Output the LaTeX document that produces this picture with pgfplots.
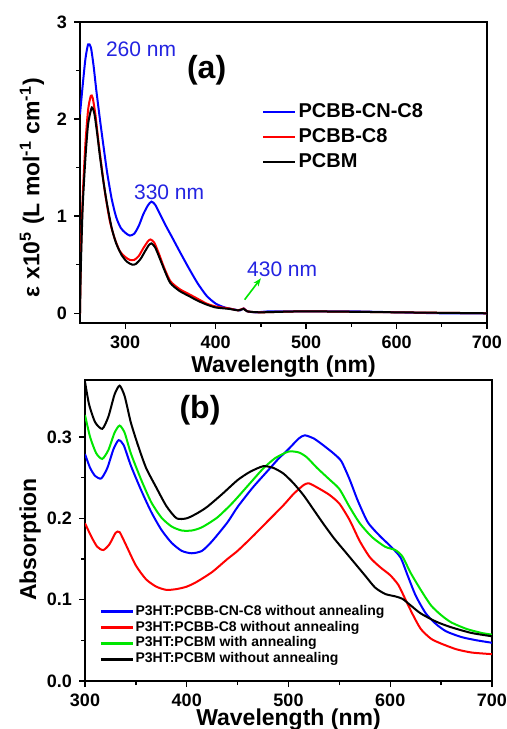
\documentclass[border=0pt]{standalone}
\usepackage{fontspec}
\setmainfont{Liberation Sans}
\usepackage{pgfplots}
\pgfplotsset{compat=1.18}
\usetikzlibrary{arrows.meta}

\definecolor{anno}{RGB}{35,35,225}
\definecolor{cblue}{RGB}{0,0,255}
\definecolor{cred}{RGB}{255,0,0}
\definecolor{cgreen}{RGB}{0,230,0}

\pgfplotsset{
  spec/.style={
    scale only axis,
    width=203.5pt, height=150.5pt,
    axis line style={line width=0.8pt},
    tick style={line width=0.7pt, black},
    tick align=outside,
    xtick pos=bottom, ytick pos=left,
    major tick length=3pt, minor tick length=2pt,
    minor tick num=1,
    /pgf/number format/assume math mode=true,
    tick label style={font=\bfseries\fontsize{9}{10}\selectfont},
    label style={font=\bfseries\fontsize{11.5}{13}\selectfont},
    xlabel style={at={(axis description cs:0.5,0)}, anchor=center, yshift=-22pt},
    legend cell align=left,
    clip mode=individual,
    every axis plot/.append style={line width=1pt, smooth, tension=0.4},
  },
}

\begin{document}
\begin{tikzpicture}
\path[use as bounding box] (0,0) rectangle (253.5pt,364.5pt);

% ---- panel (a)
\begin{axis}[spec,
  at={(40pt,203pt)}, anchor=south west,
  xmin=250, xmax=700, ymin=-0.1, ymax=3,
  xtick={300,400,500,600,700},
  ytick={0,1,2,3},
  xlabel={Wavelength (nm)},
  ylabel={ε x10\textsuperscript{5} (L mol\textsuperscript{-1} cm\textsuperscript{-1})},
  ylabel style={at={(axis description cs:-0.118,0.45)}, anchor=center},
  legend style={at={(0.432,0.752)}, anchor=north west, draw=none, fill=none,
    font=\bfseries\fontsize{10}{12}\selectfont, row sep=1.6pt,
    nodes={inner sep=1.2pt}},
  legend image code/.code={\draw[#1, sharp plot] (0pt,0pt) -- (16pt,0pt);},
]
\addplot[cblue] coordinates {
(250,2.05) (253,2.35) (256,2.62) (259,2.77) (262,2.74) (265,2.55) (268,2.30)
(272,2.00) (276,1.72) (280,1.45) (285,1.18) (290,0.99) (295,0.88) (300,0.83)
(305,0.80) (310,0.82) (315,0.90) (320,1.02) (325,1.11) (329,1.15) (333,1.12)
(338,1.03) (345,0.90) (352,0.78) (360,0.64) (370,0.47) (380,0.31) (390,0.18)
(400,0.10) (410,0.06) (420,0.04) (427,0.03) (431,0.05) (435,0.02) (445,0.01)
(460,0.02) (500,0.02) (550,0.02) (600,0.01) (650,0.0) (700,0.0)};
\addlegendentry{PCBB-CN-C8}
\addplot[cred] coordinates {
(250,0.0) (251,0.6) (253,1.2) (256,1.75) (259,2.1) (262,2.24) (264,2.22)
(267,2.05) (270,1.80) (274,1.50) (278,1.22) (283,0.95) (288,0.78) (294,0.64)
(300,0.58) (305,0.55) (310,0.55) (315,0.59) (320,0.67) (325,0.74) (328,0.76)
(332,0.73) (337,0.62) (343,0.47) (350,0.33) (360,0.25) (370,0.20) (380,0.15)
(390,0.10) (400,0.07) (415,0.05) (425,0.03) (431,0.05) (435,0.02) (450,0.01)
(500,0.02) (600,0.01) (700,0.0)};
\addlegendentry{PCBB-C8}
\addplot[black] coordinates {
(250,0.0) (251,0.5) (253,1.1) (256,1.6) (259,1.95) (263,2.12) (266,2.05)
(269,1.85) (272,1.62) (276,1.35) (280,1.12) (285,0.88) (290,0.72) (296,0.60)
(302,0.53) (308,0.50) (312,0.51) (317,0.56) (322,0.64) (326,0.70) (329,0.72)
(333,0.68) (338,0.57) (344,0.43) (350,0.31) (360,0.23) (370,0.18) (380,0.13)
(390,0.09) (400,0.06) (415,0.045) (425,0.03) (431,0.045) (435,0.02) (450,0.01)
(500,0.02) (600,0.01) (700,0.0)};
\addlegendentry{PCBM}

\node[anno, anchor=west, font=\fontsize{10.5}{12}\selectfont] at (axis cs:271,2.72) {260 nm};
\node[anno, anchor=west, font=\fontsize{10.5}{12}\selectfont] at (axis cs:302,1.25) {330 nm};
\node[anno, anchor=west, font=\fontsize{10.5}{12}\selectfont] at (axis cs:427,0.45) {430 nm};
\draw[cgreen, line width=0.8pt, -{Stealth[length=4pt]}] (axis cs:432,0.14) -- (axis cs:450,0.36);
\node[font=\bfseries\fontsize{16}{18}\selectfont] at (axis cs:390,2.5) {(a)};
\end{axis}

% ---- panel (b)
\begin{axis}[spec,
  at={(42.5pt,24pt)}, anchor=south west,
  xmin=300, xmax=700, ymin=0, ymax=0.37,
  xtick={300,400,500,600,700},
  ytick={0,0.1,0.2,0.3},
  yticklabel style={/pgf/number format/.cd, fixed, fixed zerofill, precision=1},
  xlabel={Wavelength (nm)},
  xlabel style={yshift=2.7pt},
  ylabel={Absorption},
  ylabel style={at={(axis description cs:-0.135,0.47)}, anchor=center},
  legend style={at={(0.02,0.272)}, anchor=north west, draw=none, fill=none,
    font=\bfseries\fontsize{7}{8}\selectfont, row sep=0pt,
    nodes={inner sep=0.7pt}},
  legend image code/.code={\draw[#1, sharp plot, line width=1.3pt] (0pt,0pt) -- (16pt,0pt);},
]
\addplot[cblue] coordinates {
(300,0.279) (305,0.262) (310,0.252) (316,0.249) (322,0.262) (328,0.285) (333,0.296)
(338,0.290) (345,0.265) (355,0.235) (365,0.208) (375,0.186) (385,0.170) (395,0.160)
(405,0.157) (415,0.160) (425,0.172) (440,0.195) (450,0.214) (465,0.238) (480,0.259)
(490,0.273) (500,0.285) (510,0.298) (516,0.302) (525,0.298) (535,0.289) (545,0.279)
(552,0.270) (560,0.248) (568,0.222) (578,0.195) (590,0.178) (600,0.166) (610,0.152)
(617,0.130) (625,0.105) (635,0.083) (645,0.070) (655,0.061) (670,0.054) (685,0.050)
(700,0.047)};
\addlegendentry{P3HT:PCBB-CN-C8 without annealing}
\addplot[cred] coordinates {
(300,0.194) (306,0.178) (312,0.165) (318,0.161) (324,0.168) (330,0.182) (334,0.183)
(340,0.168) (350,0.142) (360,0.125) (370,0.116) (380,0.112) (390,0.113) (400,0.116)
(410,0.122) (425,0.134) (440,0.150) (450,0.160) (465,0.178) (480,0.197) (495,0.216)
(505,0.230) (515,0.241) (520,0.243) (528,0.238) (540,0.229) (550,0.218) (560,0.198)
(570,0.172) (580,0.152) (590,0.140) (600,0.130) (608,0.118) (615,0.100) (622,0.082)
(630,0.064) (640,0.052) (650,0.046) (665,0.039) (680,0.035) (700,0.033)};
\addlegendentry{P3HT:PCBB-C8 without annealing}
\addplot[cgreen] coordinates {
(300,0.327) (305,0.300) (311,0.280) (317,0.273) (323,0.284) (329,0.305) (334,0.314)
(339,0.305) (345,0.280) (355,0.248) (365,0.220) (375,0.201) (385,0.190) (395,0.185)
(405,0.185) (415,0.189) (430,0.201) (445,0.219) (460,0.240) (475,0.261) (487,0.274)
(500,0.282) (510,0.281) (518,0.275) (528,0.262) (540,0.248) (550,0.236) (560,0.214)
(570,0.194) (582,0.177) (595,0.165) (605,0.161) (612,0.153) (620,0.133) (630,0.112)
(640,0.093) (650,0.081) (660,0.072) (675,0.064) (690,0.059) (700,0.057)};
\addlegendentry{P3HT:PCBM with annealing}
\addplot[black] coordinates {
(300,0.368) (304,0.340) (310,0.318) (317,0.310) (323,0.325) (329,0.352) (334,0.363)
(339,0.350) (345,0.318) (352,0.290) (360,0.262) (370,0.238) (380,0.215) (390,0.200)
(400,0.200) (410,0.206) (420,0.214) (435,0.230) (450,0.247) (462,0.257) (475,0.264)
(485,0.262) (495,0.255) (505,0.243) (515,0.228) (525,0.210) (535,0.192) (545,0.175)
(555,0.160) (565,0.145) (575,0.130) (585,0.115) (595,0.107) (605,0.104) (612,0.101)
(620,0.093) (630,0.083) (645,0.073) (660,0.066) (680,0.059) (700,0.055)};
\addlegendentry{P3HT:PCBM without annealing}

\node[font=\bfseries\fontsize{16}{18}\selectfont] at (axis cs:413,0.333) {(b)};
\end{axis}
\end{tikzpicture}
\end{document}
